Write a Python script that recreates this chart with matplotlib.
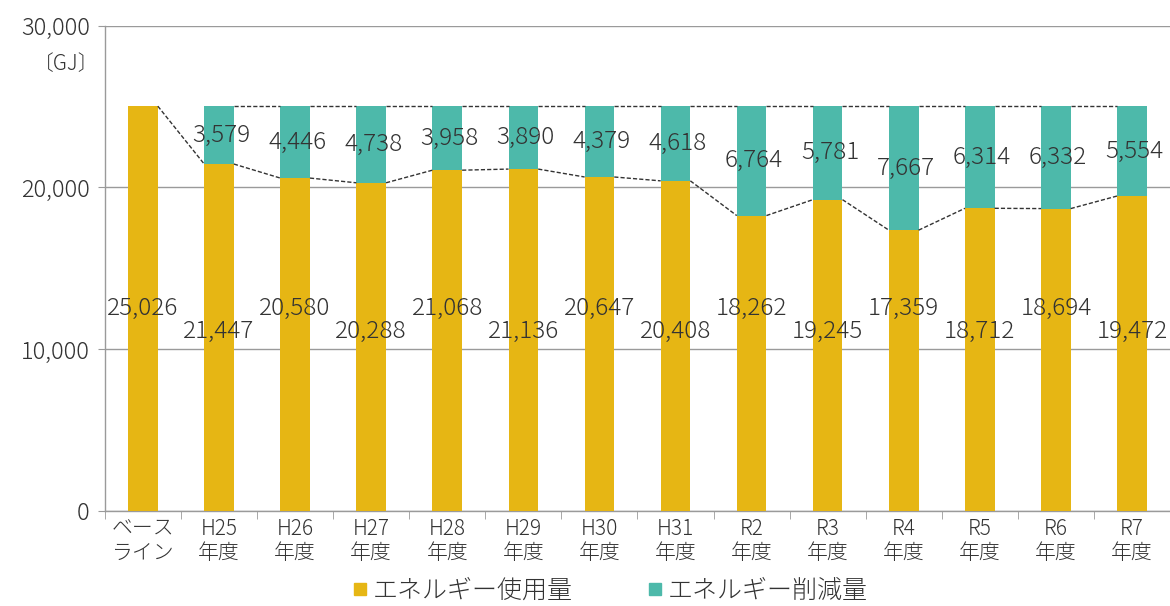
import matplotlib
matplotlib.use("Agg")
import matplotlib.pyplot as plt
import numpy as np
from matplotlib.lines import Line2D

plt.rcParams['font.family'] = ['Noto Sans CJK JP', 'DejaVu Sans']
plt.rcParams['font.weight'] = 'light'

categories = ["ベース\nライン", "H25\n年度", "H26\n年度", "H27\n年度", "H28\n年度", "H29\n年度",
              "H30\n年度", "H31\n年度", "R2\n年度", "R3\n年度", "R4\n年度", "R5\n年度",
              "R6\n年度", "R7\n年度"]
usage = [25026, 21447, 20580, 20288, 21068, 21136, 20647, 20408, 18262, 19245, 17359, 18712, 18694, 19472]
reduction = [None, 3579, 4446, 4738, 3958, 3890, 4379, 4618, 6764, 5781, 7667, 6314, 6332, 5554]
series_names = ["エネルギー使用量", "エネルギー削減量"]

yellow = "#E6B614"
teal = "#4DB9AA"
grid_c = "#9a9a9a"
text_c = "#333333"

fig = plt.figure(figsize=(11.7, 6.06), dpi=100)
ax = fig.add_axes([0.0897, 0.1568, 0.9103, 0.8008])

x = np.arange(len(categories))
w = 0.39
red = [r if r is not None else 0 for r in reduction]
ax.bar(x, usage, width=w, color=yellow, zorder=3)
ax.bar(x, red, width=w, bottom=usage, color=teal, zorder=3)

# series lines between bars
for i in range(len(x) - 1):
    ax.plot([x[i] + w / 2, x[i + 1] - w / 2], [usage[i], usage[i + 1]],
            ls=(0, (3, 1.5)), color="#333333", lw=1.0, zorder=4)
    if reduction[i] is not None:
        ax.plot([x[i] + w / 2, x[i + 1] - w / 2],
                [usage[i] + red[i], usage[i + 1] + red[i + 1]],
                ls=(0, (3, 1.5)), color="#333333", lw=1.0, zorder=4)

# labels
for i in range(len(x)):
    ly = 12550 if i % 2 == 0 else 11080
    ax.text(x[i], ly, f"{usage[i]:,}", ha="center", va="center", fontsize=17.5,
            color=text_c, zorder=5)
    if reduction[i] is not None:
        ax.text(x[i] + 0.03, usage[i] + red[i] / 2, f"{reduction[i]:,}", ha="center",
                va="center", fontsize=17.5, color=text_c, zorder=5)

ax.set_xlim(-0.5, len(x) - 0.5)
ax.set_ylim(0, 30000)
ax.set_yticks([0, 10000, 20000, 30000])
ax.set_yticklabels(["0", "10,000", "20,000", "30,000"], fontsize=17, color=text_c)
ax.yaxis.grid(True, color=grid_c, lw=1.0, zorder=0)
ax.tick_params(axis="y", length=5, color=grid_c, pad=6)

ax.set_xticks(x)
ax.set_xticklabels(categories, fontsize=15, color=text_c, linespacing=1.15)
ax.set_xticks(np.arange(-0.5, len(x)), minor=True)
ax.tick_params(axis="x", which="major", length=0, pad=5)
ax.tick_params(axis="x", which="minor", length=6, color=grid_c)

for s in ["top", "right"]:
    ax.spines[s].set_visible(False)
for s in ["left", "bottom"]:
    ax.spines[s].set_color(grid_c)
    ax.spines[s].set_linewidth(1.0)

fig.text(0.085, 0.895, "〔GJ〕", ha="right", va="center", fontsize=15, color=text_c)

handles = [Line2D([], [], marker="s", ls="none", color=yellow, markersize=8),
           Line2D([], [], marker="s", ls="none", color=teal, markersize=8)]
fig.legend(handles, series_names, loc="center", bbox_to_anchor=(0.514, 0.026), ncol=2,
           frameon=False, fontsize=18, handletextpad=-0.5, columnspacing=2.3,
           labelcolor=text_c)

fig.savefig("out.png", dpi=100)
